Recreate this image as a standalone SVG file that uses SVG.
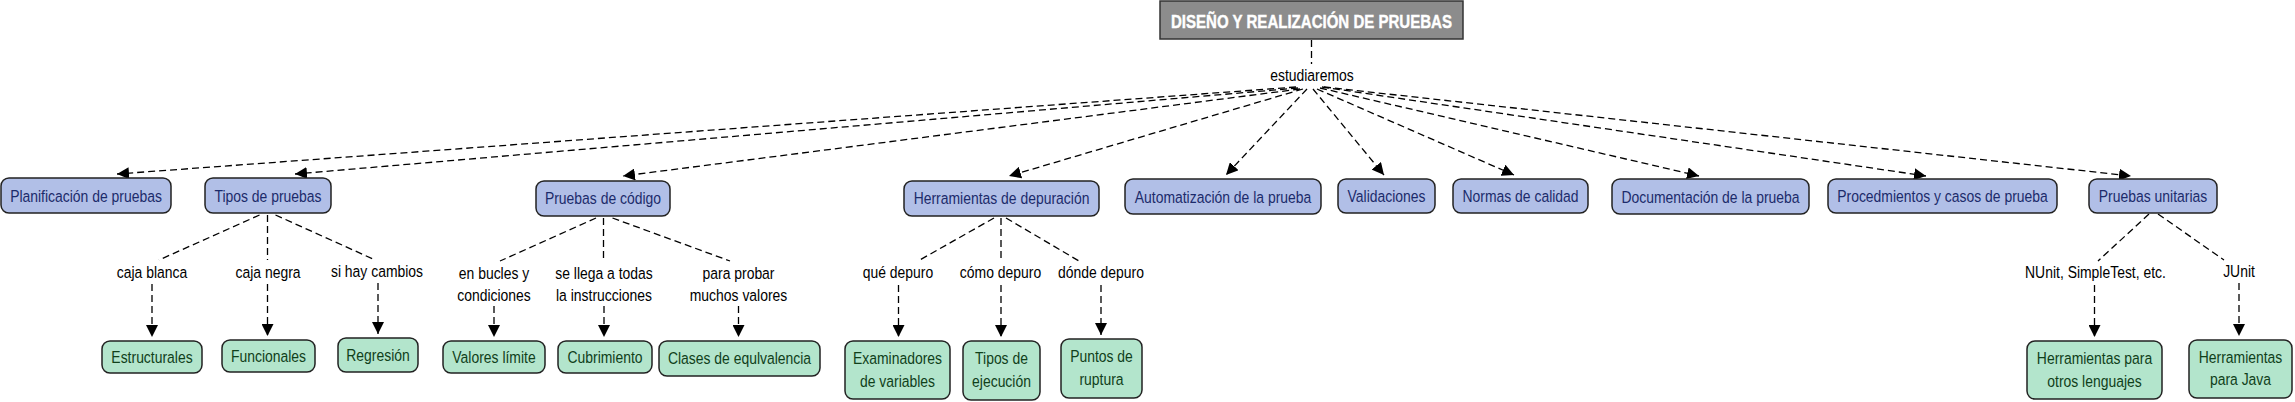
<svg xmlns="http://www.w3.org/2000/svg" width="2295" height="402" viewBox="0 0 2295 402">
<defs>
<style>
.t text{font-family:"Liberation Sans",Arial,sans-serif;font-size:17px;text-anchor:middle}
.title rect{fill:#8c8c8c;stroke:#333;stroke-width:1.5}
.title text{fill:#fff;font-weight:bold;font-size:18px;stroke:#fff;stroke-width:0.4}
.blue rect{fill:#b1bfe7;stroke:#222;stroke-width:1.5}
.blue text{fill:#1c2b6b}
.green rect{fill:#b3e5cc;stroke:#222;stroke-width:1.5}
.green text{fill:#10401a}
.lbl text{fill:#000}
#connectors line{stroke:#000;stroke-width:1.3;stroke-dasharray:7 4;fill:none}
#connectors line.a{marker-end:url(#arr)}
</style>
<marker id="arr" markerUnits="userSpaceOnUse" markerWidth="12" markerHeight="12" viewBox="0 0 12 12" refX="12" refY="6" orient="auto"><path d="M0,0 L12,6 L0,12 z" fill="#000"/></marker>
</defs>
<rect width="2295" height="402" fill="#fff"/>
<g id="connectors">
<line x1="1311.5" y1="40" x2="1311.5" y2="64"/>
<line class="a" x1="1296" y1="87" x2="117" y2="174"/>
<line class="a" x1="1298" y1="88" x2="295" y2="174"/>
<line class="a" x1="1300" y1="89" x2="623" y2="176"/>
<line class="a" x1="1303" y1="89" x2="1009" y2="176"/>
<line class="a" x1="1307" y1="89" x2="1226" y2="175"/>
<line class="a" x1="1313" y1="89" x2="1384" y2="175"/>
<line class="a" x1="1317" y1="89" x2="1514" y2="175"/>
<line class="a" x1="1320" y1="88" x2="1699" y2="176"/>
<line class="a" x1="1322" y1="87" x2="1926" y2="176"/>
<line class="a" x1="1324" y1="87" x2="2131" y2="176"/>
<line x1="259.5" y1="215" x2="159" y2="260"/>
<line x1="267.5" y1="215" x2="267.5" y2="260"/>
<line x1="275.5" y1="215" x2="373" y2="259"/>
<line class="a" x1="152" y1="284" x2="152" y2="337"/>
<line class="a" x1="267.5" y1="284" x2="267.5" y2="336"/>
<line class="a" x1="378" y1="283" x2="378" y2="334"/>
<line x1="596" y1="218" x2="500" y2="261"/>
<line x1="603.5" y1="218" x2="603.5" y2="260"/>
<line x1="612.5" y1="218" x2="730" y2="261"/>
<line class="a" x1="494" y1="306" x2="494" y2="337"/>
<line class="a" x1="604" y1="306" x2="604" y2="337"/>
<line class="a" x1="738.5" y1="306" x2="738.5" y2="337"/>
<line x1="994" y1="218" x2="918" y2="261"/>
<line x1="1001" y1="218" x2="1001" y2="260"/>
<line x1="1006" y1="218" x2="1079" y2="261"/>
<line class="a" x1="898.5" y1="285" x2="898.5" y2="337"/>
<line class="a" x1="1001" y1="285" x2="1001" y2="337"/>
<line class="a" x1="1101" y1="285" x2="1101" y2="335"/>
<line x1="2149" y1="214" x2="2098" y2="261"/>
<line x1="2158" y1="214" x2="2224" y2="260"/>
<line class="a" x1="2094.5" y1="285" x2="2094.5" y2="337"/>
<line class="a" x1="2239" y1="283" x2="2239" y2="336"/>
</g>
<g id="n-title" class="title t"><rect x="1160" y="1" width="303" height="38"/><text x="1311.5" y="28" textLength="281" lengthAdjust="spacingAndGlyphs">DISEÑO Y REALIZACIÓN DE PRUEBAS</text></g>
<g id="l-estudiaremos" class="lbl t"><text transform="translate(1312,81) scale(0.82,1)">estudiaremos</text></g>
<g id="n-planificacion" class="blue t"><rect x="1" y="178" width="170" height="35" rx="8"/><text transform="translate(86,201.5) scale(0.82,1)">Planificación de pruebas</text></g>
<g id="n-tipos" class="blue t"><rect x="205" y="178" width="126" height="35" rx="8"/><text transform="translate(268,201.5) scale(0.82,1)">Tipos de pruebas</text></g>
<g id="n-codigo" class="blue t"><rect x="536" y="181" width="134" height="35" rx="8"/><text transform="translate(603,204) scale(0.82,1)">Pruebas de código</text></g>
<g id="n-herramientas" class="blue t"><rect x="904" y="181" width="195" height="35" rx="8"/><text transform="translate(1001.5,204) scale(0.82,1)">Herramientas de depuración</text></g>
<g id="n-automatizacion" class="blue t"><rect x="1125" y="179" width="196" height="35" rx="8"/><text transform="translate(1223,202.5) scale(0.82,1)">Automatización de la prueba</text></g>
<g id="n-validaciones" class="blue t"><rect x="1338" y="179" width="97" height="34" rx="8"/><text transform="translate(1386.5,202) scale(0.82,1)">Validaciones</text></g>
<g id="n-normas" class="blue t"><rect x="1453" y="179" width="135" height="34" rx="8"/><text transform="translate(1520.5,202) scale(0.82,1)">Normas de calidad</text></g>
<g id="n-documentacion" class="blue t"><rect x="1612" y="179" width="197" height="35" rx="8"/><text transform="translate(1710.5,202.5) scale(0.82,1)">Documentación de la prueba</text></g>
<g id="n-procedimientos" class="blue t"><rect x="1828" y="179" width="229" height="34" rx="8"/><text transform="translate(1942.5,202) scale(0.82,1)">Procedmientos y casos de prueba</text></g>
<g id="n-unitarias" class="blue t"><rect x="2089" y="179" width="128" height="34" rx="8"/><text transform="translate(2153,202) scale(0.82,1)">Pruebas unitarias</text></g>
<g id="l-cajablanca" class="lbl t"><text transform="translate(152,278) scale(0.82,1)">caja blanca</text></g>
<g id="l-cajanegra" class="lbl t"><text transform="translate(268,278) scale(0.82,1)">caja negra</text></g>
<g id="l-cambios" class="lbl t"><text transform="translate(377,277) scale(0.82,1)">si hay cambios</text></g>
<g id="l-bucles" class="lbl t"><text transform="translate(494,279) scale(0.82,1)">en bucles y</text><text transform="translate(494,301) scale(0.82,1)">condiciones</text></g>
<g id="l-llega" class="lbl t"><text transform="translate(604,279) scale(0.82,1)">se llega a todas</text><text transform="translate(604,301) scale(0.82,1)">la instrucciones</text></g>
<g id="l-probar" class="lbl t"><text transform="translate(738.5,279) scale(0.82,1)">para probar</text><text transform="translate(738.5,301) scale(0.82,1)">muchos valores</text></g>
<g id="l-que" class="lbl t"><text transform="translate(898,278) scale(0.82,1)">qué depuro</text></g>
<g id="l-como" class="lbl t"><text transform="translate(1000.5,278) scale(0.82,1)">cómo depuro</text></g>
<g id="l-donde" class="lbl t"><text transform="translate(1101,278) scale(0.82,1)">dónde depuro</text></g>
<g id="l-nunit" class="lbl t"><text transform="translate(2095.5,278) scale(0.82,1)">NUnit, SimpleTest, etc.</text></g>
<g id="l-junit" class="lbl t"><text transform="translate(2239,277) scale(0.82,1)">JUnit</text></g>
<g id="n-estructurales" class="green t"><rect x="102" y="341" width="100" height="32" rx="8"/><text transform="translate(152,363) scale(0.82,1)">Estructurales</text></g>
<g id="n-funcionales" class="green t"><rect x="222" y="340" width="93" height="32" rx="8"/><text transform="translate(268.5,362) scale(0.82,1)">Funcionales</text></g>
<g id="n-regresion" class="green t"><rect x="338" y="338" width="80" height="34" rx="8"/><text transform="translate(378,361) scale(0.82,1)">Regresión</text></g>
<g id="n-valores" class="green t"><rect x="443" y="341" width="102" height="32" rx="8"/><text transform="translate(494,363) scale(0.82,1)">Valores límite</text></g>
<g id="n-cubrimiento" class="green t"><rect x="558" y="341" width="94" height="32" rx="8"/><text transform="translate(605,363) scale(0.82,1)">Cubrimiento</text></g>
<g id="n-clases" class="green t"><rect x="659" y="341" width="161" height="35" rx="8"/><text transform="translate(739.5,364) scale(0.82,1)">Clases de equlvalencia</text></g>
<g id="n-examinadores" class="green t"><rect x="845" y="341" width="105" height="58" rx="8"/><text transform="translate(897.5,364) scale(0.82,1)">Examinadores</text><text transform="translate(897.5,386.5) scale(0.82,1)">de variables</text></g>
<g id="n-tiposejec" class="green t"><rect x="963" y="341" width="77" height="59" rx="8"/><text transform="translate(1001.5,364) scale(0.82,1)">Tipos de</text><text transform="translate(1001.5,386.5) scale(0.82,1)">ejecución</text></g>
<g id="n-puntos" class="green t"><rect x="1061" y="339" width="81" height="59" rx="8"/><text transform="translate(1101.5,362) scale(0.82,1)">Puntos de</text><text transform="translate(1101.5,384.5) scale(0.82,1)">ruptura</text></g>
<g id="n-otros" class="green t"><rect x="2027" y="341" width="135" height="58" rx="8"/><text transform="translate(2094.5,364) scale(0.82,1)">Herramientas para</text><text transform="translate(2094.5,386.5) scale(0.82,1)">otros lenguajes</text></g>
<g id="n-java" class="green t"><rect x="2189" y="340" width="103" height="58" rx="8"/><text transform="translate(2240.5,362.5) scale(0.82,1)">Herramientas</text><text transform="translate(2240.5,385) scale(0.82,1)">para Java</text></g>
</svg>
